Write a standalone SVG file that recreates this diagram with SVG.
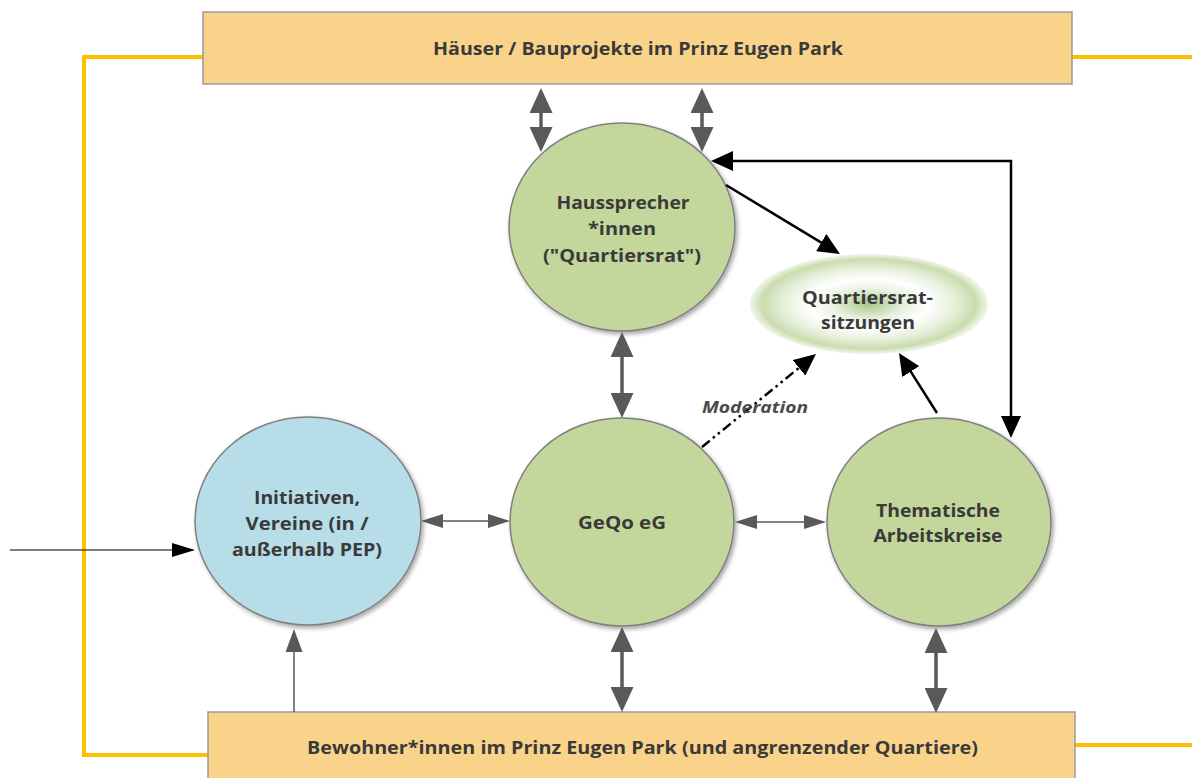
<svg xmlns="http://www.w3.org/2000/svg" width="1192" height="778" viewBox="0 0 1192 778">
<style>
.box{fill:#fad38a;stroke:#9a9a9a;stroke-width:1.5}
.green{fill:#c3d69b;stroke:#7f7f7f;stroke-width:1.5}
.blue{fill:#b7dde8;stroke:#7f7f7f;stroke-width:1.5}
.t{font-family:"Open Sans","Liberation Sans",sans-serif;font-weight:bold;fill:#3a3a3a;text-anchor:middle;font-size:18px}
.yl{fill:none;stroke:#ffc000;stroke-width:4}
.gb{stroke:#595959;stroke-width:3.5;fill:none}
.gs{stroke:#595959;stroke-width:1.5;fill:none}
.bk{stroke:#000;stroke-width:2.5;fill:none}
</style>
<defs>
<filter id="sh" x="-10%" y="-10%" width="125%" height="125%">
<feDropShadow dx="2" dy="2.5" stdDeviation="2" flood-color="#000" flood-opacity="0.35"/>
</filter>
<radialGradient id="qg" cx="0.5" cy="0.5" r="0.5">
<stop offset="0" stop-color="#a9c689"/>
<stop offset="0.3" stop-color="#e9f1df"/>
<stop offset="0.5" stop-color="#ffffff"/>
<stop offset="0.72" stop-color="#e6efda"/>
<stop offset="0.9" stop-color="#c9dcae"/>
<stop offset="1" stop-color="#d8e6c6" stop-opacity="0.4"/>
</radialGradient>
<marker id="mGB" markerUnits="userSpaceOnUse" markerWidth="25" markerHeight="23" refX="20" refY="11.5" orient="auto-start-reverse"><path d="M0,0 L25,11.5 L0,23 Z" fill="#595959"/></marker>
<marker id="mGS" markerUnits="userSpaceOnUse" markerWidth="22" markerHeight="14" refX="19" refY="7" orient="auto-start-reverse"><path d="M0,0 L22,7 L0,14 Z" fill="#595959"/></marker>
<marker id="mGM" markerUnits="userSpaceOnUse" markerWidth="23" markerHeight="17" refX="20" refY="8.5" orient="auto-start-reverse"><path d="M0,0 L23,8.5 L0,17 Z" fill="#595959"/></marker>
<marker id="mBK" markerUnits="userSpaceOnUse" markerWidth="22" markerHeight="20" refX="18" refY="10" orient="auto-start-reverse"><path d="M0,0 L22,10 L0,20 Z" fill="#000"/></marker>
<marker id="mBT" markerUnits="userSpaceOnUse" markerWidth="23" markerHeight="14" refX="21" refY="7" orient="auto"><path d="M0,0 L23,7 L0,14 Z" fill="#000"/></marker>
</defs>
<rect width="1192" height="778" fill="#fff"/>
<g id="frame-lines">
<polyline class="yl" points="205,57 84,57 84,755 210,755"/>
<line class="yl" x1="1070" y1="57" x2="1192" y2="57"/>
<line class="yl" x1="1073" y1="745" x2="1192" y2="745"/>
</g>
<g id="haeuser">
<rect class="box" x="203" y="12" width="869" height="72"/>
<text class="t" x="638" y="55" textLength="410" lengthAdjust="spacingAndGlyphs">Häuser / Bauprojekte im Prinz Eugen Park</text>
</g>
<g id="bewohner">
<rect class="box" x="208" y="712" width="867" height="72"/>
<text class="t" x="642.5" y="754" textLength="671" lengthAdjust="spacingAndGlyphs">Bewohner*innen im Prinz Eugen Park (und angrenzender Quartiere)</text>
</g>
<g id="haussprecher">
<ellipse class="green" cx="622" cy="227" rx="113" ry="104" filter="url(#sh)"/>
<text class="t" x="623" y="209" textLength="133" lengthAdjust="spacingAndGlyphs">Haussprecher</text>
<text class="t" x="622" y="235" textLength="68" lengthAdjust="spacingAndGlyphs">*innen</text>
<text class="t" x="622" y="262" textLength="158" lengthAdjust="spacingAndGlyphs">("Quartiersrat")</text>
</g>
<g id="quartiersratsitzungen">
<ellipse cx="869" cy="304" rx="119" ry="50" fill="url(#qg)"/>
<text class="t" x="867.5" y="304" textLength="131" lengthAdjust="spacingAndGlyphs">Quartiersrat-</text>
<text class="t" x="868" y="329" textLength="94" lengthAdjust="spacingAndGlyphs">sitzungen</text>
</g>
<g id="initiativen">
<ellipse class="blue" cx="308" cy="521" rx="113" ry="104" filter="url(#sh)"/>
<text class="t" x="307" y="504" textLength="106" lengthAdjust="spacingAndGlyphs">Initiativen,</text>
<text class="t" x="307" y="530" textLength="123" lengthAdjust="spacingAndGlyphs">Vereine (in /</text>
<text class="t" x="307" y="556" textLength="150" lengthAdjust="spacingAndGlyphs">außerhalb PEP)</text>
</g>
<g id="geqo">
<ellipse class="green" cx="622" cy="522" rx="112" ry="104" filter="url(#sh)"/>
<text class="t" x="622" y="529" textLength="88" lengthAdjust="spacingAndGlyphs">GeQo eG</text>
</g>
<g id="arbeitskreise">
<ellipse class="green" cx="939" cy="522" rx="112" ry="104" filter="url(#sh)"/>
<text class="t" x="938" y="517" textLength="124" lengthAdjust="spacingAndGlyphs">Thematische</text>
<text class="t" x="938" y="542" textLength="129" lengthAdjust="spacingAndGlyphs">Arbeitskreise</text>
</g>
<g id="connectors">
<line class="gb" x1="541" y1="93" x2="541" y2="147" marker-start="url(#mGB)" marker-end="url(#mGB)"/>
<line class="gb" x1="702" y1="93" x2="702" y2="147" marker-start="url(#mGB)" marker-end="url(#mGB)"/>
<line class="gb" x1="622" y1="337" x2="622" y2="413" marker-start="url(#mGB)" marker-end="url(#mGB)"/>
<line class="gb" x1="622" y1="632" x2="622" y2="707" marker-start="url(#mGB)" marker-end="url(#mGB)"/>
<line class="gb" x1="936" y1="633" x2="936" y2="708" marker-start="url(#mGB)" marker-end="url(#mGB)"/>
<line class="gs" x1="424" y1="521" x2="507" y2="521" marker-start="url(#mGS)" marker-end="url(#mGS)"/>
<line class="gs" x1="738" y1="522" x2="823" y2="522" marker-start="url(#mGS)" marker-end="url(#mGS)"/>
<line class="gs" x1="294" y1="712" x2="294" y2="632" marker-end="url(#mGM)"/>
<line x1="10" y1="550" x2="193" y2="550" stroke="#000" stroke-width="1.2" marker-end="url(#mBT)"/>
<line class="bk" x1="726" y1="185" x2="836.6" y2="251.9" marker-end="url(#mBK)"/>
<path class="bk" d="M715,161 L1011,161 L1011,434" marker-start="url(#mBK)" marker-end="url(#mBK)"/>
<line class="bk" x1="937" y1="413" x2="901.1" y2="356.4" marker-end="url(#mBK)"/>
<line class="bk" x1="702" y1="447" x2="812.9" y2="356.5" stroke-dasharray="10 4 2.5 4 2.5 4" marker-end="url(#mBK)"/>
<text x="755" y="413" font-family="Open Sans, Liberation Sans, sans-serif" font-weight="bold" font-style="italic" font-size="16" fill="#4a4a4a" text-anchor="middle" textLength="106" lengthAdjust="spacingAndGlyphs">Moderation</text>
</g>
</svg>
